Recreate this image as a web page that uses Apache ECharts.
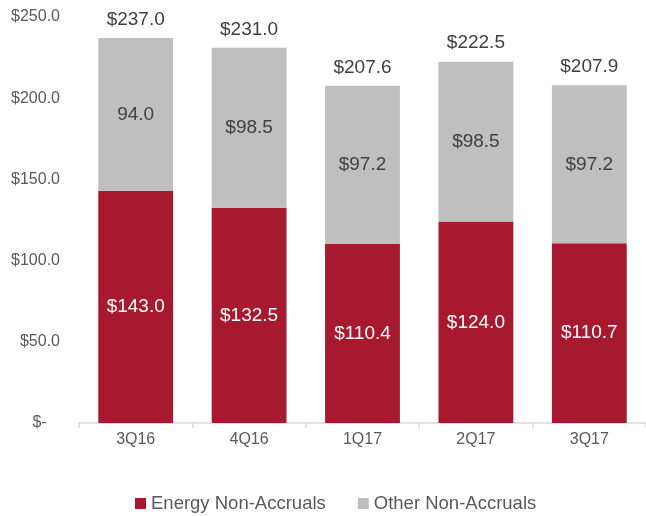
<!DOCTYPE html>
<html>
<head>
<meta charset="utf-8">
<script src="https://cdn.jsdelivr.net/npm/echarts@6/dist/echarts.min.js"></script>
<style>
  html, body { margin: 0; padding: 0; background: #fff; }
  #chart { width: 646px; height: 516px; }
</style>
</head>
<body>
<div id="chart"></div>
<script>
var quarters = ['3Q16', '4Q16', '1Q17', '2Q17', '3Q17'];
var energy = [143.0, 132.5, 110.4, 124.0, 110.7];
var other = [94.0, 98.5, 97.2, 98.5, 97.2];
var totals = [237.0, 231.0, 207.6, 222.5, 207.9];
var otherLabels = ['94.0', '$98.5', '$97.2', '$98.5', '$97.2'];

var myChart = echarts.init(document.getElementById('chart'));
var fontFam = 'Liberation Sans, Arial, sans-serif';

var option = {
    animation: false,
    textStyle: { fontFamily: fontFam },
    grid: { left: 79, right: -7, top: 17, bottom: 93 },
    legend: {
        bottom: -2,
        left: 130,
        itemWidth: 11,
        itemHeight: 11,
        itemGap: 32,
        icon: 'rect',
        textStyle: { fontSize: 18.5, color: '#595959', fontFamily: fontFam },
        data: ['Energy Non-Accruals', 'Other Non-Accruals']
    },
    xAxis: {
        type: 'category',
        data: quarters,
        axisLine: { lineStyle: { color: '#D9D9D9', width: 1.5 } },
        axisTick: { show: true, length: 5, lineStyle: { color: '#D9D9D9', width: 1.5 } },
        axisLabel: { color: '#595959', fontSize: 16, margin: 9 }
    },
    yAxis: {
        type: 'value',
        min: 0,
        max: 250,
        interval: 50,
        axisLine: { show: false },
        axisTick: { show: false },
        splitLine: { show: false },
        axisLabel: {
            color: '#595959',
            fontSize: 16,
            margin: 19,
            formatter: function (v) {
                return v === 0 ? '$-   ' : '$' + v.toFixed(1);
            }
        }
    },
    series: [
        {
            name: 'Energy Non-Accruals',
            type: 'bar',
            stack: 'total',
            barWidth: '66%',
            itemStyle: { color: '#A6192E' },
            label: {
                show: true,
                position: 'inside',
                color: '#ffffff',
                fontSize: 19,
                formatter: function (p) { return '$' + p.value.toFixed(1); }
            },
            data: energy
        },
        {
            name: 'Other Non-Accruals',
            type: 'bar',
            stack: 'total',
            barWidth: '66%',
            itemStyle: { color: '#BFBFBF' },
            label: {
                show: true,
                position: 'inside',
                color: '#404040',
                fontSize: 19,
                formatter: function (p) { return otherLabels[p.dataIndex]; }
            },
            data: other
        },
        {
            name: 'Total',
            type: 'bar',
            barWidth: '66%',
            barGap: '-100%',
            itemStyle: { color: 'rgba(0,0,0,0)' },
            label: {
                show: true,
                position: 'top',
                distance: 9,
                color: '#404040',
                fontSize: 19,
                formatter: function (p) { return '$' + p.value.toFixed(1); }
            },
            silent: true,
            z: 1,
            data: totals
        }
    ]
};

myChart.setOption(option);
</script>
</body>
</html>
